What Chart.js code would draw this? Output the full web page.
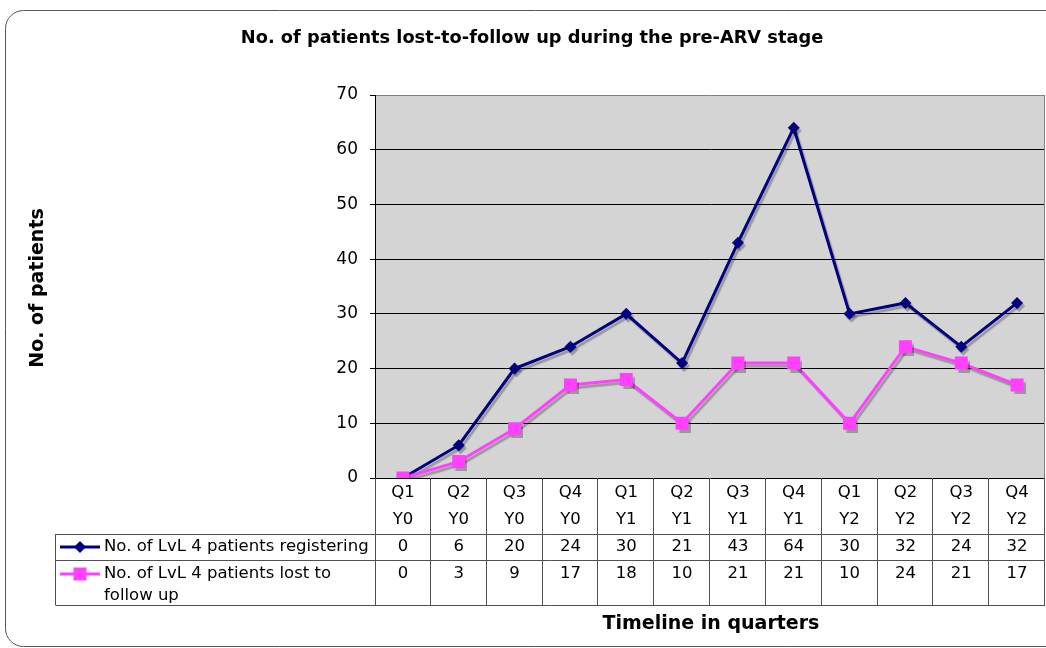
<!DOCTYPE html>
<html>
<head>
<meta charset="utf-8">
<script src="https://cdn.jsdelivr.net/npm/chart.js@4.4.1/dist/chart.umd.min.js"></script>
<style>
  html, body { margin: 0; padding: 0; background: #fff; overflow: hidden; }
  canvas { display: block; }
</style>
</head>
<body>
<canvas id="myChart" width="1046" height="648"></canvas>
<script>
// data
const quarters = ['Q1', 'Q2', 'Q3', 'Q4', 'Q1', 'Q2', 'Q3', 'Q4', 'Q1', 'Q2', 'Q3', 'Q4'];
const years = ['Y0', 'Y0', 'Y0', 'Y0', 'Y1', 'Y1', 'Y1', 'Y1', 'Y2', 'Y2', 'Y2', 'Y2'];
const registering = [0, 6, 20, 24, 30, 21, 43, 64, 30, 32, 24, 32];
const lostToFollowUp = [0, 3, 9, 17, 18, 10, 21, 21, 10, 24, 21, 17];
const seriesNames = [
  ['No. of LvL 4 patients registering'],
  ['No. of LvL 4 patients lost to', 'follow up']
];
const yMin = 0, yMax = 70, yStep = 10;

const chartTitle = 'No. of patients lost-to-follow up during the pre-ARV stage';
const yTitle = 'No. of patients';
const xTitle = 'Timeline in quarters';

const FONT = '"DejaVu Sans", Verdana, sans-serif';
const NAVY = '#000080';
const PINK = '#ff40ff';

const labels = quarters.map((q, i) => [q, years[i]]);

// background, frame and plot area
const backdrop = {
  id: 'backdrop',
  beforeDraw(chart) {
    const { ctx, chartArea: a } = chart;
    ctx.save();
    ctx.fillStyle = '#fff';
    ctx.fillRect(0, 0, chart.width, chart.height);
    // rounded outer frame, runs off the right edge
    const x = 5.5, y = 10.5, w = 1080, h = 636, r = 18;
    ctx.beginPath();
    ctx.moveTo(x + r, y);
    ctx.lineTo(x + w - r, y);
    ctx.arcTo(x + w, y, x + w, y + r, r);
    ctx.lineTo(x + w, y + h - r);
    ctx.arcTo(x + w, y + h, x + w - r, y + h, r);
    ctx.lineTo(x + r, y + h);
    ctx.arcTo(x, y + h, x, y + h - r, r);
    ctx.lineTo(x, y + r);
    ctx.arcTo(x, y, x + r, y, r);
    ctx.closePath();
    ctx.strokeStyle = '#555';
    ctx.lineWidth = 1;
    ctx.stroke();
    ctx.fillStyle = '#d4d4d4';
    ctx.fillRect(a.left, a.top, a.right - a.left, a.bottom - a.top);
    ctx.restore();
  }
};

// excel style drop shadow under the lines
const shadow = {
  id: 'shadow',
  beforeDatasetsDraw(chart) {
    const c = chart.ctx;
    c.save();
    c.shadowColor = 'rgba(0,0,0,0.28)';
    c.shadowOffsetX = 2;
    c.shadowOffsetY = 3;
    c.shadowBlur = 1;
  },
  afterDatasetsDraw(chart) {
    chart.ctx.restore();
  }
};

function drawMarker(ctx, kind, x, y, color) {
  ctx.fillStyle = color;
  ctx.beginPath();
  if (kind === 'diamond') {
    ctx.moveTo(x, y - 6); ctx.lineTo(x + 6, y); ctx.lineTo(x, y + 6); ctx.lineTo(x - 6, y);
    ctx.closePath();
  } else {
    ctx.rect(x - 6.5, y - 6.5, 13, 13);
  }
  ctx.fill();
}

// titles + data table under the plot
const dataTable = {
  id: 'dataTable',
  afterDraw(chart) {
    const { ctx, chartArea: a } = chart;
    const xs = chart.scales.x;
    const n = labels.length;
    const colW = (a.right - a.left) / n;
    const rows = [a.bottom, 534, 560, 605];
    const legendLeft = 55.5;

    ctx.save();
    // right border of plot area
    ctx.strokeStyle = '#808080';
    ctx.lineWidth = 1;
    ctx.beginPath();
    ctx.moveTo(a.right - 0.5, a.top);
    ctx.lineTo(a.right - 0.5, a.bottom);
    ctx.stroke();

    // table grid
    ctx.strokeStyle = '#505050';
    ctx.beginPath();
    for (let i = 0; i <= n; i++) {
      const x = Math.round(a.left + i * colW) - 0.5 + (i === 0 ? 1 : 0);
      ctx.moveTo(x, rows[0]);
      ctx.lineTo(x, rows[3]);
    }
    for (let r = 1; r < rows.length; r++) {
      ctx.moveTo(legendLeft, rows[r] + 0.5);
      ctx.lineTo(a.right, rows[r] + 0.5);
    }
    ctx.moveTo(legendLeft, rows[1]);
    ctx.lineTo(legendLeft, rows[3]);
    ctx.stroke();

    // category + value text
    ctx.fillStyle = '#000';
    ctx.font = '16.5px ' + FONT;
    ctx.textAlign = 'center';
    ctx.textBaseline = 'middle';
    const series = [registering, lostToFollowUp];
    for (let i = 0; i < n; i++) {
      const cx = xs.getPixelForValue(i);
      ctx.fillText(labels[i][0], cx, 493);
      ctx.fillText(labels[i][1], cx, 520);
      ctx.fillText(String(series[0][i]), cx, 547);
      ctx.fillText(String(series[1][i]), cx, 574);
    }

    // legend keys in the table
    const keyY = [547, 574];
    const colors = [NAVY, PINK];
    const kinds = ['diamond', 'square'];
    for (let s = 0; s < 2; s++) {
      ctx.strokeStyle = colors[s];
      ctx.lineWidth = 3;
      ctx.beginPath();
      ctx.moveTo(60, keyY[s]);
      ctx.lineTo(100, keyY[s]);
      ctx.stroke();
      drawMarker(ctx, kinds[s], 80, keyY[s], colors[s]);
      ctx.fillStyle = '#000';
      ctx.textAlign = 'left';
      seriesNames[s].forEach((t, k) => ctx.fillText(t, 104, keyY[s] + k * 22));
    }

    // titles
    ctx.font = 'bold 17.8px ' + FONT;
    ctx.textAlign = 'center';
    ctx.fillText(chartTitle, 532, 38);
    ctx.font = 'bold 19px ' + FONT;
    ctx.fillText(xTitle, 711, 624);
    ctx.translate(38, 288);
    ctx.rotate(-Math.PI / 2);
    ctx.fillText(yTitle, 0, 0);
    ctx.restore();
  }
};

const ctx = document.getElementById('myChart').getContext('2d');

new Chart(ctx, {
  type: 'line',
  data: {
    labels: labels,
    datasets: [
      {
        label: seriesNames[0].join(' '),
        data: registering,
        borderColor: NAVY,
        backgroundColor: NAVY,
        borderWidth: 3,
        pointStyle: 'rectRot',
        pointRadius: 6,
        pointBorderWidth: 0,
        pointHoverRadius: 6,
        fill: false,
        order: 1
      },
      {
        label: seriesNames[1].join(' '),
        data: lostToFollowUp,
        borderColor: PINK,
        backgroundColor: PINK,
        borderWidth: 3,
        pointStyle: 'rect',
        pointRadius: 9.2,
        pointBorderWidth: 0,
        pointHoverRadius: 9.2,
        fill: false,
        order: 0
      }
    ]
  },
  options: {
    responsive: false,
    animation: false,
    events: [],
    layout: { autoPadding: false, padding: { left: 0, top: 95, right: 1, bottom: 170 } },
    plugins: {
      legend: { display: false },
      title: { display: false },
      tooltip: { enabled: false }
    },
    scales: {
      x: {
        display: false,
        offset: true
      },
      y: {
        min: yMin,
        max: yMax,
        afterFit(scale) { scale.width = 375; },
        ticks: {
          stepSize: yStep,
          padding: 12,
          color: '#000',
          font: { family: FONT, size: 17 }
        },
        grid: {
          color: (c) => (c.tick && c.tick.value === yMax ? '#808080' : '#000'),
          tickColor: '#000',
          tickLength: 5,
          lineWidth: 1
        },
        border: { color: '#000', width: 1 }
      }
    }
  },
  plugins: [backdrop, shadow, dataTable]
});
</script>
</body>
</html>
